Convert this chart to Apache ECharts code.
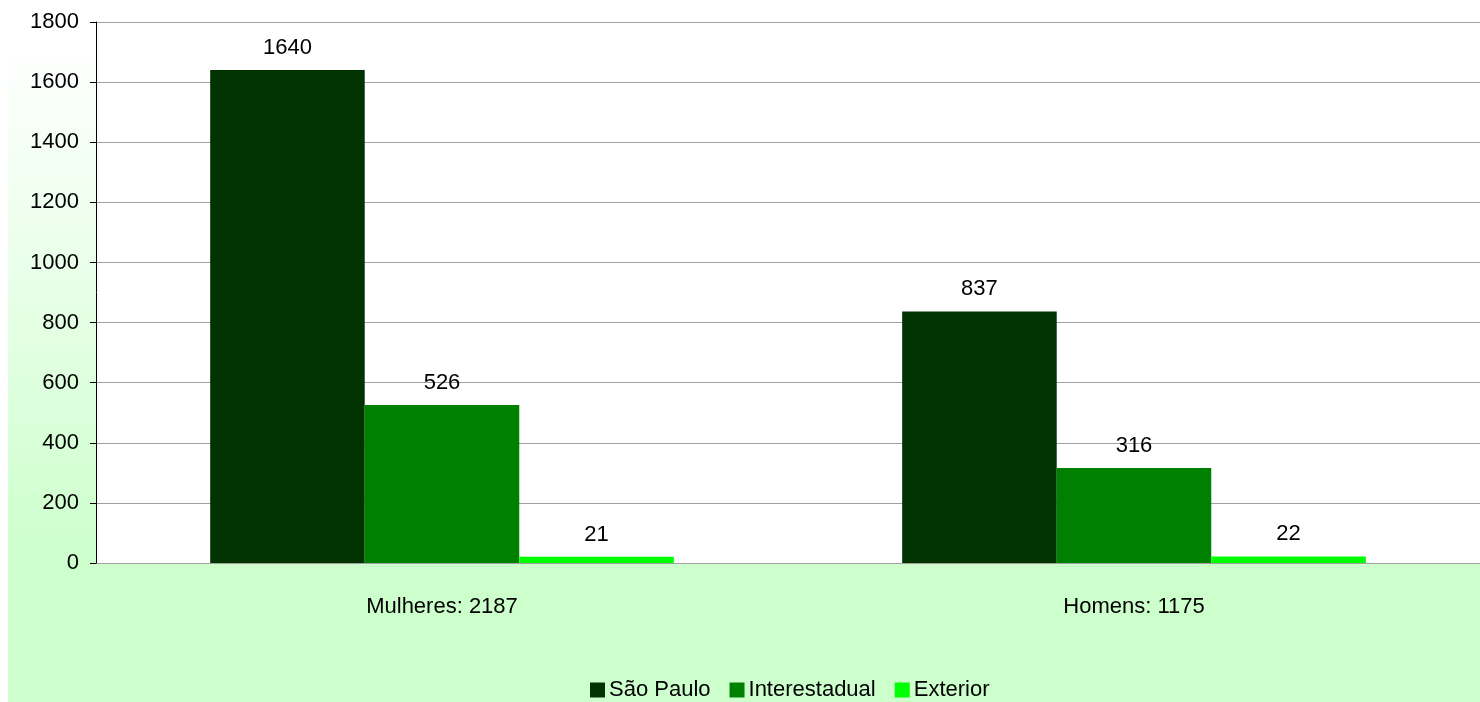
<!DOCTYPE html>
<html>
<head>
<meta charset="utf-8">
<script src="https://cdn.jsdelivr.net/npm/echarts@6/dist/echarts.min.js"></script>
<style>
html,body{margin:0;padding:0;background:#fff;}
#chart{width:1480px;height:702px;}
</style>
</head>
<body>
<div id="chart"></div>
<script>
const categories = ['Mulheres: 2187', 'Homens: 1175'];
const seriesNames = ['São Paulo', 'Interestadual', 'Exterior'];
const saoPaulo = [1640, 837];
const interestadual = [526, 316];
const exterior = [21, 22];
const colors = ['#003300', '#008000', '#00ff00'];

const chart = echarts.init(document.getElementById('chart'));
const font = '"Liberation Sans", Arial, sans-serif';
const values = [saoPaulo, interestadual, exterior];
const fs = 22;

chart.setOption({
  animation: false,
  textStyle: { fontFamily: font },
  graphic: [
    { type: 'rect', z: -10, silent: true, shape: { x: 8, y: 0, width: 1472, height: 563 },
      style: { fill: new echarts.graphic.LinearGradient(0, 0, 0, 1, [
        { offset: 0, color: '#ffffff' }, { offset: 0.08, color: '#ffffff' }, { offset: 1, color: '#ccffcc' }]) } },
    { type: 'rect', z: -10, silent: true, shape: { x: 8, y: 563, width: 1472, height: 139 },
      style: { fill: '#ccffcc' } }
  ],
  grid: { left: 96, right: 0, top: 22, bottom: 139, show: true, backgroundColor: '#ffffff', borderWidth: 0 },
  legend: {
    top: 674, left: 585,
    icon: 'rect',
    itemWidth: 15, itemHeight: 15, itemGap: 19,
    textStyle: { fontSize: fs, color: '#000', fontFamily: font, padding: [0, 0, 0, -1] },
    data: seriesNames
  },
  xAxis: {
    type: 'category', data: categories,
    axisLine: { show: false }, axisTick: { show: false },
    axisLabel: { fontSize: fs, color: '#000', margin: 33, fontFamily: font }
  },
  yAxis: {
    type: 'value', min: 0, max: 1800, interval: 200,
    axisLine: { show: true, lineStyle: { color: '#000', width: 1 } },
    axisTick: { show: true, length: 6, lineStyle: { color: '#000' } },
    axisLabel: { fontSize: fs, color: '#000', margin: 17, fontFamily: font, formatter: v => String(v) },
    splitLine: { show: true, lineStyle: { color: '#a0a0a0', width: 1 } }
  },
  series: seriesNames.map((n, i) => ({
    name: n, type: 'bar', data: values[i],
    barGap: '0%', barCategoryGap: '33%',
    itemStyle: { color: colors[i] },
    label: { show: true, position: 'top', distance: 11, fontSize: fs, color: '#000', fontFamily: font }
  }))
});
</script>
</body>
</html>
